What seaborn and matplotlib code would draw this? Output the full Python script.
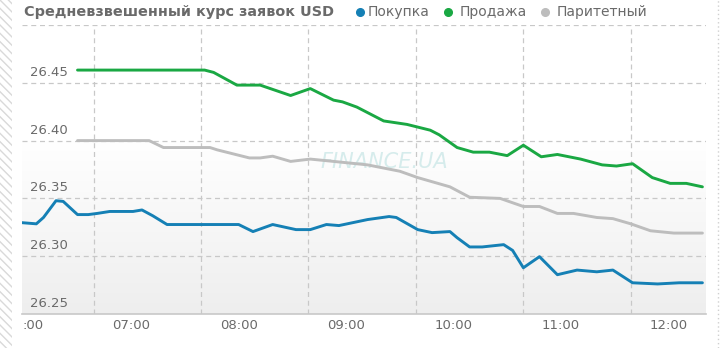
import numpy as np
import pandas as pd
import matplotlib
matplotlib.use("Agg")
import matplotlib.pyplot as plt
import seaborn as sns
from matplotlib.patches import Rectangle
from matplotlib.lines import Line2D

# ---- data ----
title = "Средневзвешенный курс заявок USD"
series_names = ["Покупка", "Продажа", "Паритетный"]

buy_t = ["05:59", "06:07", "06:11", "06:18", "06:22", "06:30", "06:36", "06:41", "06:48", "07:01",
         "07:06", "07:12", "07:20", "07:27", "08:00", "08:08", "08:19", "08:32", "08:40", "08:49",
         "08:56", "09:12", "09:24", "09:28", "09:40", "09:48", "09:58", "10:02", "10:09", "10:16",
         "10:28", "10:33", "10:39", "10:48", "10:58", "11:09", "11:20", "11:29", "11:40", "11:54",
         "12:06", "12:19"]
buy_v = [26.329, 26.328, 26.3335, 26.348, 26.3474, 26.336, 26.336, 26.337, 26.3387, 26.3387,
         26.340, 26.335, 26.3274, 26.3274, 26.3274, 26.3213, 26.3274, 26.323, 26.323, 26.3274,
         26.3265, 26.3317, 26.3343, 26.3335, 26.323, 26.3204, 26.3213, 26.316, 26.308, 26.308,
         26.310, 26.305, 26.290, 26.2996, 26.284, 26.288, 26.2865, 26.288, 26.277, 26.276,
         26.277, 26.277]

sell_t = ["06:30", "07:41", "07:46", "07:59", "08:12", "08:29", "08:40", "08:53", "08:58", "09:06",
          "09:21", "09:34", "09:47", "09:52", "10:02", "10:11", "10:20", "10:30", "10:39", "10:49",
          "10:58", "11:11", "11:23", "11:31", "11:40", "11:51", "12:01", "12:10", "12:19"]
sell_v = [26.461, 26.461, 26.459, 26.448, 26.448, 26.439, 26.445, 26.435, 26.4335, 26.429,
          26.417, 26.414, 26.409, 26.405, 26.394, 26.390, 26.390, 26.387, 26.396, 26.386,
          26.388, 26.384, 26.379, 26.378, 26.380, 26.368, 26.363, 26.363, 26.360]

par_t = ["06:30", "07:10", "07:18", "07:44", "07:48", "08:06", "08:12", "08:19", "08:29", "08:40",
         "08:53", "09:12", "09:30", "09:40", "09:49", "09:58", "10:09", "10:26", "10:39", "10:48",
         "10:58", "11:07", "11:20", "11:29", "11:39", "11:50", "12:03", "12:19"]
par_v = [26.400, 26.400, 26.394, 26.394, 26.392, 26.385, 26.385, 26.3865, 26.382, 26.384,
         26.382, 26.379, 26.3735, 26.368, 26.364, 26.360, 26.351, 26.350, 26.343, 26.343,
         26.337, 26.337, 26.3335, 26.3325, 26.328, 26.322, 26.320, 26.320]

x_labels = ["06:00", "07:00", "08:00", "09:00", "10:00", "11:00", "12:00"]
y_ticks = [26.25, 26.30, 26.35, 26.40, 26.45]

# ---- helpers ----
def to_min(s):
    h, m = s.split(":")
    return int(h) * 60 + int(m)

frames = []
for name, t, v in [("Покупка", buy_t, buy_v), ("Продажа", sell_t, sell_v), ("Паритетный", par_t, par_v)]:
    frames.append(pd.DataFrame({"t": [to_min(s) for s in t], "v": v, "series": name}))
df = pd.concat(frames, ignore_index=True)

colors = {"Покупка": "#1580b5", "Продажа": "#1aa843", "Паритетный": "#bdbdbd"}
txt_col = "#6a6a6a"

sns.set_theme(style="white")
plt.rcParams["font.family"] = ["DejaVu Sans"]

W, H = 720, 348
fig = plt.figure(figsize=(W / 100, H / 100), dpi=100)
ax = fig.add_axes([22 / W, 1 - 314 / H, (706 - 22) / W, (314 - 25) / H])

# background gradient
grad = np.linspace(0, 1, 256).reshape(-1, 1)
grad = np.clip(grad / 0.6, 0, 1)  # bottom 0 -> top 1
cmap = matplotlib.colors.LinearSegmentedColormap.from_list("bg", ["#eeeeee", "#ffffff"])
ax.imshow(grad, extent=[0, 1, 0, 1], transform=ax.transAxes, cmap=cmap, aspect="auto",
          origin="lower", zorder=0)

xmin, xmax = 359, 741
ymin, ymax = 26.25, 26.50

sns.lineplot(data=df, x="t", y="v", hue="series", palette=colors, sort=False, legend=False,
             estimator=None, linewidth=2.1, ax=ax, zorder=3,
             hue_order=["Паритетный", "Продажа", "Покупка"])
for l in ax.get_lines():
    l.set_solid_joinstyle("round")
    l.set_solid_capstyle("round")

ax.set_xlim(xmin, xmax)
ax.set_ylim(ymin, ymax)
ax.set_xlabel("")
ax.set_ylabel("")

# grid
vgrid = [399, 459, 519, 579, 639, 699]
for gx in vgrid:
    ax.axvline(gx, color="#c8c8c8", lw=0.9, ls=(0, (4, 3)), zorder=1)
for gy in [26.30, 26.35, 26.40, 26.45, 26.50]:
    ax.axhline(gy, color="#c8c8c8", lw=0.9, ls=(0, (4, 3)), zorder=1)

ax.set_xticks(vgrid)
ax.set_xticklabels([])
ax.tick_params(axis="x", length=6, color="#c8c8c8", width=0.9, direction="out")
ax.set_yticks([])
for s in ["top", "right", "left"]:
    ax.spines[s].set_visible(False)
ax.spines["bottom"].set_color("#c8c8c8")
ax.spines["bottom"].set_linewidth(1.2)

# y labels inside plot, above gridlines
for yv in y_ticks:
    ax.text(363.5, yv + 0.0035, f"{yv:.2f}", ha="left", va="bottom", fontsize=9.5,
            color=txt_col, zorder=4)

# x labels
for i, lab in enumerate(x_labels):
    pos = to_min(lab)
    if i == 0:
        ax.text(359.5, -0.04, ":00", transform=ax.get_xaxis_transform(), ha="left",
                va="center", fontsize=9.5, color=txt_col)
    else:
        ax.text(pos, -0.04, lab, transform=ax.get_xaxis_transform(), ha="center",
                va="center", fontsize=9.5, color=txt_col)

# watermark
ax.text(0.53, 0.525, "FINANCE.UA", transform=ax.transAxes, ha="center", va="center",
        fontsize=15, style="italic", color="#d6ecec", zorder=2)

# title and legend
fig.text(24 / W, 1 - 12 / H, title, ha="left", va="center", fontsize=10.4,
         fontweight="bold", color=txt_col)
leg_items = [("Покупка", 360, 368), ("Продажа", 448, 460), ("Паритетный", 545, 557)]
for name, dx, tx in leg_items:
    fig.add_artist(Line2D([dx / W], [1 - 12 / H], marker="o", markersize=5.5,
                          color=colors[name], linestyle="none"))
    fig.text(tx / W, 1 - 12 / H, name, ha="left", va="center", fontsize=10, color=txt_col)

# left hatched strip and right dotted border
fig.add_artist(Rectangle((0, 0), 12 / W, 1, transform=fig.transFigure, facecolor="white",
                         edgecolor="#d9d9d9", hatch="\\\\\\\\", linewidth=0))
fig.add_artist(Line2D([718 / W, 718 / W], [0, 1], color="#d0d0d0", lw=1, ls=(0, (1, 2))))

fig.savefig("out.png", dpi=100)
